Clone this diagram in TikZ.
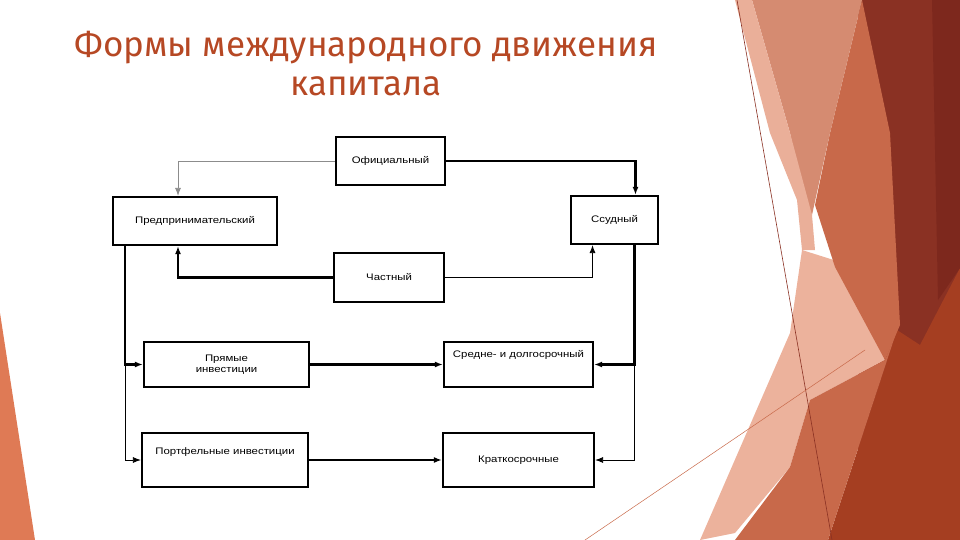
\documentclass[tikz,border=0pt]{standalone}
\usepackage{fontspec}
\setmainfont{Liberation Sans}
\newfontfamily\titlefont{Fira Sans}
\newfontfamily\boxfont{Liberation Sans}[FakeStretch=1.2]
\usetikzlibrary{positioning, arrows.meta, calc}
\definecolor{titlecol}{RGB}{182,72,36}
\definecolor{bgdark}{RGB}{138,49,35}
\definecolor{bgdarker}{RGB}{125,40,29}
\definecolor{bgred}{RGB}{165,62,33}
\definecolor{bgorange}{RGB}{200,105,74}
\definecolor{bgsalmon}{RGB}{213,139,113}
\definecolor{bgpale}{RGB}{236,178,156}
\definecolor{bgpink}{RGB}{234,175,153}
\definecolor{bgleft}{RGB}{223,122,85}

\begin{document}
\begin{tikzpicture}[x=1pt,y=-1pt,>={Latex[length=8pt,width=6pt]},
  box/.style={draw,line width=2.2pt,font=\boxfont\fontsize{9.5}{11}\selectfont,align=center,inner sep=2pt},
  heavy/.style={line width=2.2pt},
  light/.style={line width=0.8pt},
  faint/.style={line width=0.8pt,draw=black!45}]
  \useasboundingbox (0,0) rectangle (960,540);
  % slide background
  \fill[bgleft] (0,313) -- (35,540) -- (0,540) -- cycle;
  \fill[bgdark] (858,0) -- (960,0) -- (960,540) -- (858,540) -- cycle;
  \fill[bgred] (828,540) -- (897,330) -- (920,345) -- (960,268) -- (960,540) -- cycle;
  \fill[bgdarker] (932,0) -- (960,0) -- (960,268) -- (938,300) -- cycle;
  \fill[bgpale] (802,250) -- (840,262) -- (885,360) -- (810,400) -- (790,467) -- (735,533) -- (700,540) -- (790,333) -- cycle;
  \fill[bgorange] (810,400) -- (885,360) -- (897,330) -- (828,540) -- (735,540) -- (790,467) -- cycle;
  \fill[bgorange] (862,0) -- (890,133) -- (900,325) -- (885,360) -- (835,267) -- (815,205) -- (830,133) -- cycle;
  \fill[bgsalmon] (752,0) -- (862,0) -- (830,133) -- (812,215) -- (805,200) -- (790,133) -- cycle;
  \fill[bgpink] (735,0) -- (752,0) -- (790,133) -- (812,215) -- (815,250) -- (802,250) -- (797,200) -- (770,133) -- cycle;
  \draw[line width=0.6pt,bgdark] (737,0) -- (832,540);
  \draw[line width=0.5pt,bgorange] (585,540) -- (865,350);
  % title
  \node[font=\titlefont\fontsize{35}{39}\selectfont,text=titlecol,align=center] (title) at (366,64) {Формы международного движения\\капитала};
  % boxes
  \node[box,minimum width=109,minimum height=48] (off) at (390.5,161) {Официальный};
  \node[box,minimum width=164,minimum height=48] (ent) at (195,221) {Предпринимательский};
  \node[box,minimum width=87,minimum height=48] (loan) at (614.5,220) {Ссудный};
  \node[box,minimum width=110,minimum height=49] (priv) at (389,277.5) {Частный};
  \node[box,minimum width=165,minimum height=45] (direct) at (226.5,364.5) {Прямые\\инвестиции};
  \node[box,minimum width=149,minimum height=45,text height=7pt,text depth=21pt] (mid) at (518.5,364.5) {Средне- и долгосрочный};
  \node[box,minimum width=166,minimum height=54,text height=7pt,text depth=18pt] (port) at (225,460) {Портфельные инвестиции};
  \node[box,minimum width=151,minimum height=54] (short) at (518.5,460) {Краткосрочные};
  % connectors
  \coordinate (lsplit) at ([xshift=-70pt]ent.south |- direct.west);
  \coordinate (rsplit) at ([xshift=20pt]loan.south |- mid.east);
  \draw[faint,->] (off.west) -| ([xshift=-17pt]ent.north);
  \draw[heavy,->] (off.east) -| ([xshift=21pt]loan.north);
  \draw[heavy,->] (priv.west) -| ([xshift=-17pt]ent.south);
  \draw[light,->] (priv.east) -| ([xshift=-22pt]loan.south);
  \draw[heavy,->] ([xshift=-70pt]ent.south) -- (lsplit) -- (direct.west);
  \draw[light,->] (lsplit) |- (port.west);
  \draw[heavy,->] (direct.east) -- (mid.west);
  \draw[heavy,->] (port.east) -- (short.west);
  \draw[heavy,->] ([xshift=20pt]loan.south) -- (rsplit) -- (mid.east);
  \draw[light,->] (rsplit) |- (short.east);
\end{tikzpicture}
\end{document}
